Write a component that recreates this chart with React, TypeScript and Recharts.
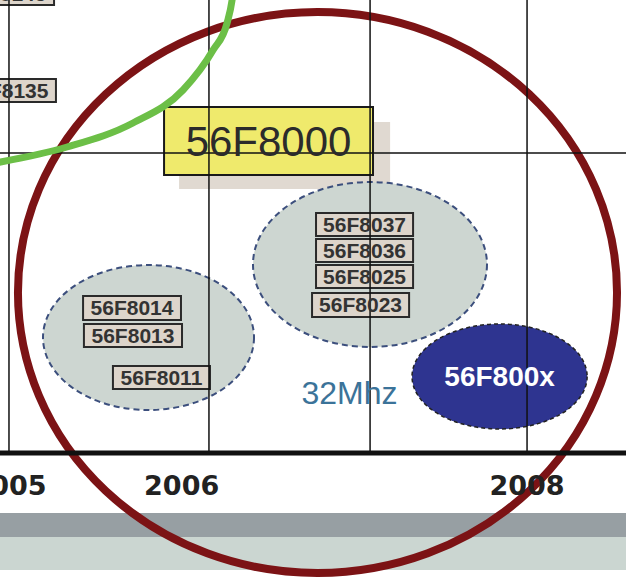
import React from 'react'
import {
  ComposedChart,
  Line,
  XAxis,
  YAxis,
  ReferenceLine,
  ReferenceArea,
  ReferenceDot,
} from 'recharts'

// timeline scale: x in years, y in arbitrary "level" units
const X_MIN = 2004.948
const X_MAX = 2008.573
const Y_MIN = 0
const Y_MAX = 90.6

const tickYears = [2005, 2006, 2008]
const gridYears = [2005, 2006.158, 2007.091]
const frontGridYear = 2008
const gridLevel = 60

// green trend curve
const greenYears = [2004.919, 2005.336, 2005.718, 2006.008, 2006.182, 2006.263, 2006.292, 2006.303]
const greenLevels = [58, 61.2, 66, 72.6, 80.6, 86, 90.6, 93.6]

// part number boxes
const partNames = ['56F8145', '56F8135', '56F8037', '56F8036', '56F8025', '56F8023', '56F8014', '56F8013', '56F8011']
const partX1 = [2004.693, 2004.705, 2006.778, 2006.778, 2006.778, 2006.755, 2005.429, 2005.434, 2005.602]
const partX2 = [2005.261, 2005.272, 2007.34, 2007.34, 2007.34, 2007.317, 2005.996, 2006.002, 2006.164]
const partY1 = [89.6, 70.2, 43.4, 38.2, 33, 27.2, 26.6, 21.2, 12.8]
const partY2 = [94.2, 74.8, 48, 42.8, 37.6, 32, 31.4, 25.8, 17.4]

// dashed cluster ellipses
const clusterX1 = [2005.197, 2006.413]
const clusterX2 = [2006.419, 2007.768]
const clusterY1 = [8.6, 21.2]
const clusterY2 = [37.6, 54.2]

const familyName = '56F8000'
const familyX = [2005.898, 2007.108]
const familyY = [55.6, 69.2]
const familyShadowX = [2005.985, 2007.207]
const familyShadowY = [52.8, 66.2]

const nextName = '56F800x'
const nextX = [2007.334, 2008.348]
const nextY = [4.8, 25.8]

const speedText = '32Mhz'
const speedAt = [2006.972, 12]

const ringX = [2005.052, 2008.521]
const ringY = [-24, 88.2]

const bandTops = [-12, -16.8]
const bandBottoms = [-16.8, -23.4]
const bandColors = ['#979fa3', '#cbd6d1']

const chartData = greenYears.map((x, i) => ({ x, y: greenLevels[i] }))

const ellipseShape = (p: any) => (
  <ellipse
    cx={p.x + p.width / 2}
    cy={p.y + p.height / 2}
    rx={Math.abs(p.width) / 2}
    ry={Math.abs(p.height) / 2}
    fill={p.fill}
    fillOpacity={p.fillOpacity}
    stroke={p.stroke}
    strokeWidth={p.strokeWidth}
    strokeDasharray={p.strokeDasharray}
  />
)

export default function App() {
  return (
    <div
      style={{
        position: 'absolute',
        left: 0,
        top: 0,
        width: 626,
        height: 578,
        background: '#fff',
        fontFamily: "'Liberation Sans', Arial, sans-serif",
      }}
    >
      <ComposedChart
        width={626}
        height={578}
        data={chartData}
        margin={{ top: 0, right: 0, left: 0, bottom: 85 }}
      >
        <XAxis
          type="number"
          dataKey="x"
          domain={[X_MIN, X_MAX]}
          allowDataOverflow
          ticks={tickYears}
          interval={0}
          tickLine={false}
          tickSize={6}
          tickMargin={17}
          height={40}
          axisLine={{ stroke: '#111', strokeWidth: 5 }}
          tick={{ fill: '#222', fontSize: 27, fontWeight: 'bold', fontFamily: "'DejaVu Sans', sans-serif" }}
        />
        <YAxis type="number" hide domain={[Y_MIN, Y_MAX]} allowDataOverflow />

        {bandColors.map((c, i) => (
          <ReferenceArea
            key={`band-${i}`}
            x1={X_MIN}
            x2={X_MAX}
            y1={bandBottoms[i]}
            y2={bandTops[i]}
            fill={c}
            fillOpacity={1}
            stroke="none"
            ifOverflow="visible"
          />
        ))}

        {gridYears.map(g => (
          <ReferenceLine key={`g-${g}`} x={g} stroke="#111" strokeWidth={1.5} />
        ))}
        <ReferenceLine y={gridLevel} stroke="#111" strokeWidth={1.5} />

        <Line
          type="monotone"
          dataKey="y"
          stroke="#6cbf47"
          strokeWidth={7}
          dot={false}
          activeDot={false}
          isAnimationActive={false}
        />

        <ReferenceArea
          x1={familyShadowX[0]}
          x2={familyShadowX[1]}
          y1={familyShadowY[0]}
          y2={familyShadowY[1]}
          fill="#e0d9d1"
          fillOpacity={1}
          stroke="none"
        />
        <ReferenceArea
          x1={familyX[0]}
          x2={familyX[1]}
          y1={familyY[0]}
          y2={familyY[1]}
          fill="#efea6c"
          fillOpacity={1}
          stroke="#1a1a1a"
          strokeWidth={2}
          label={{ value: familyName, position: 'center', fill: '#2b2b2b', fontSize: 42 }}
        />

        {clusterX1.map((x1, i) => (
          <ReferenceArea
            key={`cl-${i}`}
            x1={x1}
            x2={clusterX2[i]}
            y1={clusterY1[i]}
            y2={clusterY2[i]}
            fill="#cdd6d1"
            fillOpacity={1}
            stroke="#3c4f7d"
            strokeWidth={2}
            strokeDasharray="6 4"
            shape={ellipseShape}
          />
        ))}

        {partNames.map((name, i) => (
          <ReferenceArea
            key={name}
            x1={partX1[i]}
            x2={partX2[i]}
            y1={partY1[i]}
            y2={partY2[i]}
            fill="#ddd5cb"
            fillOpacity={1}
            stroke="#2a2a2a"
            strokeWidth={2}
            ifOverflow="visible"
            label={{ value: name, position: 'center', fill: '#333', fontSize: 21, fontWeight: 'bold' }}
          />
        ))}

        <ReferenceArea
          x1={nextX[0]}
          x2={nextX[1]}
          y1={nextY[0]}
          y2={nextY[1]}
          fill="#2e3490"
          fillOpacity={1}
          stroke="#222"
          strokeWidth={1.5}
          strokeDasharray="4 3"
          shape={ellipseShape}
          label={{ value: nextName, position: 'center', fill: '#fff', fontSize: 28, fontWeight: 'bold' }}
        />
        <ReferenceLine x={frontGridYear} stroke="#111" strokeWidth={1.5} />

        <ReferenceDot
          x={speedAt[0]}
          y={speedAt[1]}
          r={0}
          fill="none"
          stroke="none"
          label={{ value: speedText, position: 'center', fill: '#3b7399', fontSize: 32 }}
        />

        <ReferenceArea
          x1={ringX[0]}
          x2={ringX[1]}
          y1={ringY[0]}
          y2={ringY[1]}
          fill="none"
          stroke="#7c1315"
          strokeWidth={8}
          ifOverflow="visible"
          shape={ellipseShape}
        />
      </ComposedChart>
    </div>
  )
}
